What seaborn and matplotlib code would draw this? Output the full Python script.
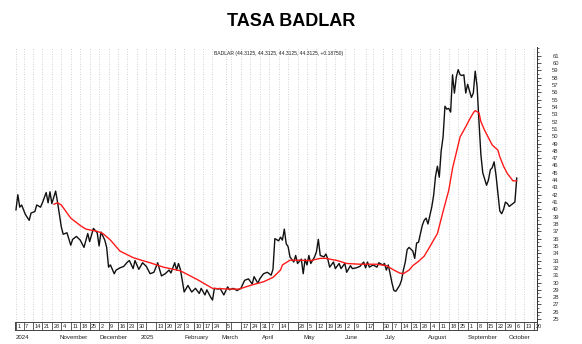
import numpy as np
import pandas as pd
import matplotlib
matplotlib.use("Agg")
import matplotlib.pyplot as plt
import matplotlib.transforms as mtransforms
import seaborn as sns
from matplotlib.ticker import MultipleLocator, FixedLocator

# ---------------- data ----------------
title = "TASA BADLAR"
legend_text = "BADLAR (44.3125, 44.3125, 44.3125, 44.3125, +0.18750)"

black_dates = [
    "2024-10-01", "2024-10-02", "2024-10-03", "2024-10-04", "2024-10-08", "2024-10-10", "2024-10-11", "2024-10-15", "2024-10-16", "2024-10-18",
    "2024-10-21", "2024-10-23", "2024-10-24", "2024-10-25", "2024-10-28", "2024-10-30", "2024-10-31", "2024-11-04", "2024-11-05", "2024-11-07",
    "2024-11-11", "2024-11-12", "2024-11-14", "2024-11-18", "2024-11-20", "2024-11-22", "2024-11-25", "2024-11-27", "2024-11-29", "2024-12-02",
    "2024-12-03", "2024-12-05", "2024-12-06", "2024-12-09", "2024-12-10", "2024-12-12", "2024-12-13", "2024-12-17", "2024-12-19", "2024-12-23",
    "2024-12-24", "2024-12-26", "2024-12-27", "2024-12-31", "2025-01-02", "2025-01-06", "2025-01-08", "2025-01-10", "2025-01-14", "2025-01-16",
    "2025-01-20", "2025-01-22", "2025-01-23", "2025-01-27", "2025-01-28", "2025-01-29", "2025-01-30", "2025-01-31", "2025-02-03", "2025-02-05",
    "2025-02-07", "2025-02-11", "2025-02-13", "2025-02-14", "2025-02-18", "2025-02-19", "2025-02-21", "2025-02-24", "2025-02-25", "2025-02-27",
    "2025-02-28", "2025-03-04", "2025-03-06", "2025-03-07", "2025-03-11", "2025-03-13", "2025-03-17", "2025-03-19", "2025-03-21", "2025-03-25",
    "2025-03-26", "2025-03-28", "2025-03-31", "2025-04-02", "2025-04-04", "2025-04-08", "2025-04-09", "2025-04-10", "2025-04-14", "2025-04-15",
    "2025-04-16", "2025-04-17", "2025-04-18", "2025-04-21", "2025-04-22", "2025-04-24", "2025-04-25", "2025-04-28", "2025-04-30", "2025-05-01",
    "2025-05-02", "2025-05-05", "2025-05-06", "2025-05-07", "2025-05-09", "2025-05-12", "2025-05-13", "2025-05-14", "2025-05-16", "2025-05-19",
    "2025-05-20", "2025-05-21", "2025-05-23", "2025-05-26", "2025-05-28", "2025-05-29", "2025-06-02", "2025-06-03", "2025-06-05", "2025-06-06",
    "2025-06-10", "2025-06-12", "2025-06-16", "2025-06-17", "2025-06-18", "2025-06-19", "2025-06-23", "2025-06-25", "2025-06-26", "2025-06-30",
    "2025-07-01", "2025-07-02", "2025-07-03", "2025-07-04", "2025-07-07", "2025-07-08", "2025-07-09", "2025-07-11", "2025-07-14", "2025-07-15",
    "2025-07-16", "2025-07-17", "2025-07-18", "2025-07-22", "2025-07-23", "2025-07-24", "2025-07-25", "2025-07-29", "2025-07-30", "2025-07-31",
    "2025-08-01", "2025-08-05", "2025-08-06", "2025-08-07", "2025-08-08", "2025-08-11", "2025-08-12", "2025-08-13", "2025-08-14", "2025-08-15",
    "2025-08-18", "2025-08-19", "2025-08-20", "2025-08-21", "2025-08-22", "2025-08-25", "2025-08-26", "2025-08-27", "2025-08-28", "2025-08-29",
    "2025-09-01", "2025-09-03", "2025-09-04", "2025-09-05", "2025-09-08", "2025-09-09", "2025-09-10", "2025-09-11", "2025-09-15", "2025-09-16",
    "2025-09-17", "2025-09-18", "2025-09-19", "2025-09-22", "2025-09-23", "2025-09-24", "2025-09-25", "2025-09-26", "2025-09-29", "2025-09-30",
    "2025-10-01", "2025-10-03", "2025-10-06", "2025-10-07",
]
black_values = [
    39.9, 42.0, 40.3, 40.6, 39.3, 38.5, 39.5, 39.7, 40.6, 40.3,
    40.9, 42.3, 40.9, 42.4, 40.8, 42.5, 41.0, 37.6, 36.6, 36.8,
    35.1, 35.9, 36.3, 35.8, 34.8, 36.7, 35.6, 37.4, 36.8, 35.0,
    36.9, 35.8, 34.8, 32.1, 32.4, 31.2, 31.7, 32.0, 32.2, 32.8,
    33.0, 31.9, 33.0, 31.8, 32.7, 32.2, 31.2, 31.4, 32.7, 30.9,
    31.2, 31.7, 31.3, 32.7, 31.7, 32.6, 31.8, 30.3, 28.7, 29.6,
    28.7, 29.2, 28.5, 29.2, 28.3, 29.0, 28.0, 27.6, 29.2, 29.1,
    29.2, 28.3, 29.4, 29.0, 29.2, 28.9, 29.2, 30.3, 30.5, 29.8,
    30.8, 29.9, 30.5, 31.2, 31.4, 31.0, 31.8, 36.0, 35.7, 36.2,
    35.8, 37.3, 35.3, 34.9, 33.5, 32.8, 33.7, 32.6, 33.2, 31.2,
    33.2, 32.4, 33.7, 32.6, 33.5, 34.2, 35.9, 33.7, 33.5, 33.9,
    33.2, 32.1, 32.8, 31.9, 32.6, 31.9, 32.6, 31.4, 32.3, 31.9,
    32.0, 32.2, 32.8, 32.0, 32.8, 32.1, 32.4, 32.1, 32.7, 32.4,
    32.6, 31.7, 32.4, 31.2, 29.9, 28.9, 28.8, 29.6, 30.3, 31.7,
    32.8, 34.5, 34.8, 34.3, 33.3, 35.4, 35.5, 37.8, 38.5, 38.8,
    38.0, 40.3, 41.9, 44.5, 45.9, 44.4, 48.0, 49.9, 54.1, 53.7,
    53.8, 53.3, 58.4, 55.9, 58.1, 59.1, 58.4, 58.3, 58.4, 55.9,
    57.1, 55.3, 55.9, 58.9, 56.8, 52.0, 47.5, 45.0, 43.3, 44.0,
    45.4, 45.7, 46.5, 44.7, 42.2, 39.8, 39.4, 40.0, 41.0, 40.8,
    40.4, 40.8, 41.0, 44.3125,
]

red_dates = [
    "2024-10-29", "2024-10-31", "2024-11-04", "2024-11-11", "2024-11-18", "2024-11-21", "2024-11-29", "2024-12-04", "2024-12-10", "2024-12-17",
    "2024-12-26", "2025-01-02", "2025-01-08", "2025-01-17", "2025-01-30", "2025-02-12", "2025-02-24", "2025-03-07", "2025-03-14", "2025-03-24",
    "2025-04-02", "2025-04-09", "2025-04-15", "2025-04-16", "2025-04-22", "2025-04-29", "2025-05-07", "2025-05-14", "2025-05-19", "2025-05-27",
    "2025-06-03", "2025-06-12", "2025-06-25", "2025-07-02", "2025-07-08", "2025-07-11", "2025-07-15", "2025-07-18", "2025-07-22", "2025-07-25",
    "2025-07-30", "2025-08-04", "2025-08-08", "2025-08-13", "2025-08-18", "2025-08-20", "2025-08-26", "2025-08-29", "2025-09-02", "2025-09-04",
    "2025-09-05", "2025-09-09", "2025-09-10", "2025-09-12", "2025-09-16", "2025-09-18", "2025-09-23", "2025-09-24", "2025-09-26", "2025-09-30",
    "2025-10-03", "2025-10-07",
]
red_values = [
    40.7, 40.9, 40.6, 38.8, 37.8, 37.3, 37.0, 36.7, 35.8, 34.3,
    33.4, 33.0, 32.7, 32.1, 31.6, 30.4, 29.2, 29.1, 29.1, 29.6,
    30.1, 30.7, 31.7, 32.4, 33.05, 33.05, 33.0, 33.3, 33.3, 33.0,
    32.6, 32.5, 32.5, 32.3, 31.7, 31.3, 31.2, 31.7, 32.3, 32.9,
    33.6, 34.9, 36.7, 39.7, 42.6, 45.6, 49.9, 51.3, 52.3, 53.2,
    53.5, 53.2, 52.0, 50.8, 49.8, 48.8, 48.1, 47.2, 45.9, 44.9,
    43.9, 43.9,
]

week_dates = [
    "2024-10-01", "2024-10-07", "2024-10-14", "2024-10-21", "2024-10-28",
    "2024-11-04", "2024-11-11", "2024-11-18", "2024-11-25",
    "2024-12-02", "2024-12-09", "2024-12-16", "2024-12-23", "2024-12-30",
    "2025-01-06", "2025-01-13", "2025-01-20", "2025-01-27",
    "2025-02-03", "2025-02-10", "2025-02-17", "2025-02-24",
    "2025-03-05", "2025-03-10", "2025-03-17", "2025-03-24", "2025-03-31",
    "2025-04-07", "2025-04-14", "2025-04-21", "2025-04-28",
    "2025-05-05", "2025-05-12", "2025-05-19", "2025-05-26",
    "2025-06-02", "2025-06-09", "2025-06-17", "2025-06-23", "2025-06-30",
    "2025-07-07", "2025-07-14", "2025-07-21", "2025-07-28",
    "2025-08-04", "2025-08-11", "2025-08-18", "2025-08-25",
    "2025-09-01", "2025-09-08", "2025-09-15", "2025-09-22", "2025-09-29",
    "2025-10-06", "2025-10-13", "2025-10-20",
]
week_labels = [
    "1", "7", "14", "21", "28",
    "4", "11", "18", "25",
    "2", "9", "16", "23", "30",
    "", "13", "20", "27",
    "3", "10", "17", "24",
    "5", "", "17", "24", "31",
    "7", "14", "", "28",
    "5", "12", "19", "26",
    "2", "9", "17", "", "30",
    "7", "14", "21", "28",
    "4", "11", "18", "25",
    "1", "8", "15", "22", "29",
    "6", "13", "20",
]
month_dates = ["2024-10-01", "2024-11-01", "2024-12-02", "2025-01-01", "2025-02-03", "2025-03-03",
               "2025-04-01", "2025-05-01", "2025-06-02", "2025-07-01", "2025-08-01", "2025-09-01", "2025-10-01"]
month_labels = ["2024", "November", "December", "2025", "February", "March",
                "April", "May", "June", "July", "August", "September", "October"]
y_ticks = list(range(25, 62))

START = "2024-10-01"


def session(dates):
    return np.busday_count(START, np.array(dates, dtype="datetime64[D]"))


df_black = pd.DataFrame({"t": session(black_dates), "v": black_values})
df_red = pd.DataFrame({"t": session(red_dates), "v": red_values})

# ---------------- figure ----------------
sns.set_style("white")
plt.rcParams["font.family"] = ["Liberation Sans", "DejaVu Sans"]

W, H = 582, 344
fig = plt.figure(figsize=(W / 100, H / 100), dpi=100)

x0, x1 = 15, 537
y_top, y_bot = 47, 322
ax = fig.add_axes([x0 / W, 1 - y_bot / H, (x1 - x0) / W, (y_bot - y_top) / H])
box_bot = 330
ax2 = fig.add_axes([x0 / W, 1 - box_bot / H, (x1 - x0) / W, (box_bot - y_bot) / H])

week_pos = session(week_dates)
xlim = (-0.5, session(["2025-10-21"])[0] + 0.7)

# dotted vertical grid
for p in week_pos:
    ax.axvline(p, color="#c4c4c4", lw=0.6, ls=(0, (1, 2)), zorder=0)

sns.lineplot(data=df_black, x="t", y="v", ax=ax, color="#111111", lw=1.0, estimator=None, sort=False)
sns.lineplot(data=df_red, x="t", y="v", ax=ax, color="#ff1a1a", lw=1.0, estimator=None, sort=False)

ax.set_xlim(*xlim)
ax.set_ylim(24.6, 62.2)
ax.set_xlabel("")
ax.set_ylabel("")
ax.set_xticks([])
ax.yaxis.tick_right()
ax.yaxis.set_major_locator(FixedLocator(y_ticks))
ax.yaxis.set_minor_locator(MultipleLocator(0.5))
ax.tick_params(axis="y", which="major", length=3, width=0.6, pad=8, labelsize=4.2, colors="#333333")
ax.tick_params(axis="y", which="minor", length=1.5, width=0.5, colors="#333333")
for s in ["left", "top"]:
    ax.spines[s].set_visible(False)
ax.spines["right"].set_color("#333333")
ax.spines["right"].set_linewidth(0.7)
ax.spines["bottom"].set_color("#333333")
ax.spines["bottom"].set_linewidth(0.7)

ax.text(0.505, 0.985, legend_text, transform=ax.transAxes, ha="center", va="top",
        fontsize=3.6, color="#222222")

# label box row
ax2.set_xlim(*xlim)
ax2.set_ylim(0, 1)
trans = mtransforms.blended_transform_factory(ax2.transData, ax2.transAxes)
for p, lab in zip(week_pos, week_labels):
    ax2.axvline(p, color="#444444", lw=0.6)
    if lab:
        ax2.text(p + 0.8, 0.45, lab, transform=trans, ha="left", va="center", fontsize=4.0, color="#222222")
ax2.set_yticks([])
month_pos = session(month_dates)
ax2.set_xticks(month_pos)
ax2.set_xticklabels(month_labels, fontsize=4.4, color="#222222", ha="left")
ax2.tick_params(axis="x", direction="out", length=3.5, width=0.6, pad=0.2, colors="#222222")
for s in ax2.spines.values():
    s.set_color("#444444")
    s.set_linewidth(0.7)
ax2.set_xlabel("")

fig.text(0.5, 1 - 21 / H, title, ha="center", va="center", fontsize=13, fontweight="bold",
         color="black", family=["Liberation Sans", "DejaVu Sans"])

fig.savefig("out.png", dpi=100, facecolor="white")
